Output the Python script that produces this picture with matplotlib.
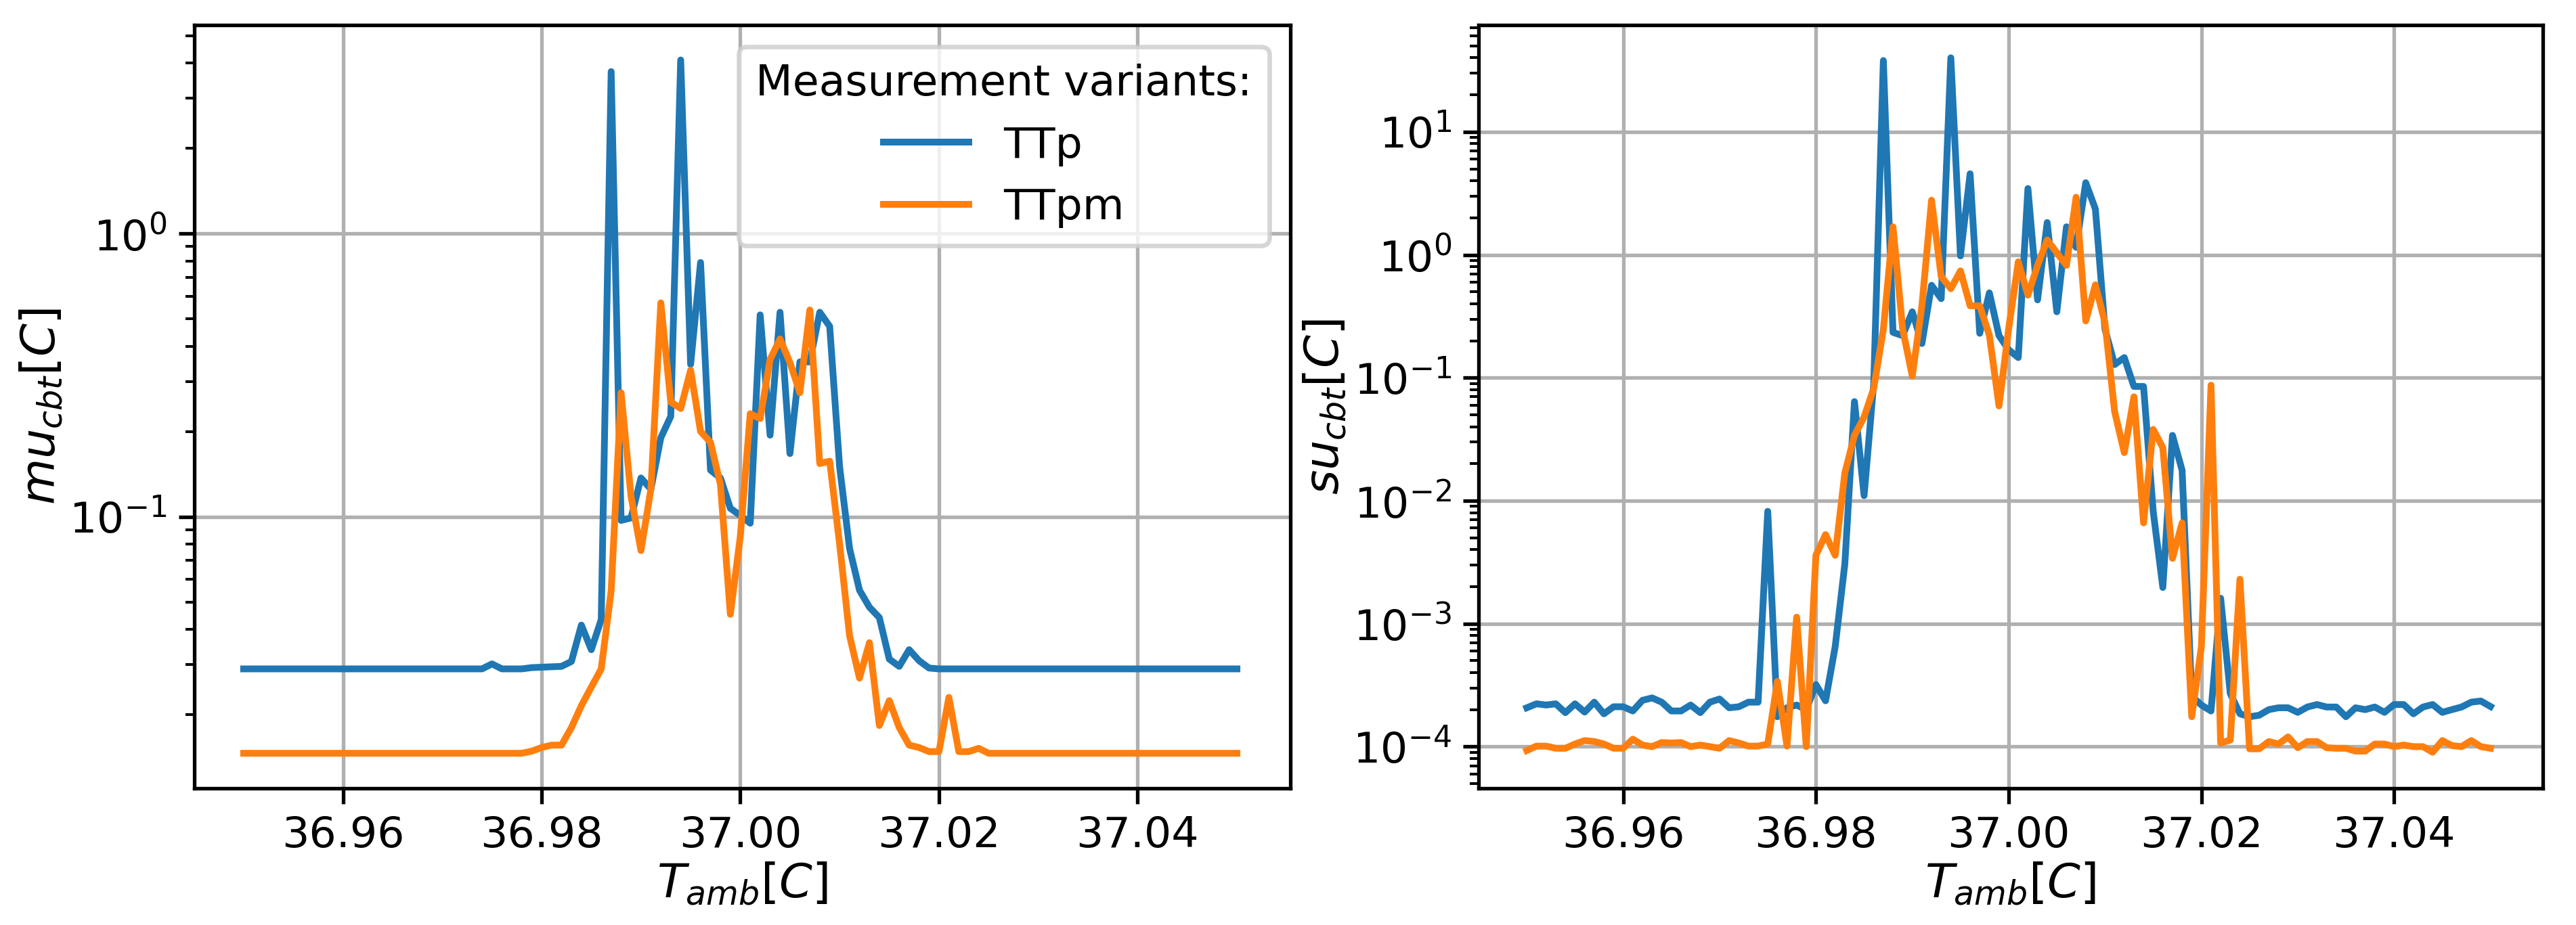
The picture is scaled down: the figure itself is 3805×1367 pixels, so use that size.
import numpy as np
import matplotlib
matplotlib.use("Agg")
import matplotlib.pyplot as plt

t_amb = np.round(np.arange(36.950, 37.0505, 0.001), 3)

mu_ttp = ([0.029]*25 + [0.0302, 0.029, 0.029, 0.029, 0.0293, 0.0294, 0.0295, 0.0296, 0.0308, 0.0414,
           0.0339, 0.0433, 3.73, 0.097, 0.099, 0.137, 0.125, 0.19, 0.226, 4.1,
           0.345, 0.79, 0.146, 0.137, 0.107, 0.101, 0.0948, 0.516, 0.194, 0.527,
           0.167, 0.352, 0.352, 0.527, 0.47, 0.15, 0.0773, 0.055, 0.0479, 0.044,
           0.0314, 0.0296, 0.0339, 0.031, 0.0292] + [0.029]*31)

mu_ttpm = ([0.0146]*29 + [0.01485, 0.0153, 0.0156, 0.0156, 0.018, 0.0215, 0.025, 0.029, 0.0547, 0.274,
            0.118, 0.0759, 0.125, 0.569, 0.254, 0.241, 0.329, 0.20, 0.183, 0.13,
            0.0452, 0.085, 0.231, 0.222, 0.359, 0.424, 0.35, 0.274, 0.537, 0.154,
            0.157, 0.08, 0.038, 0.0269, 0.0359, 0.0183, 0.0224, 0.018, 0.0156, 0.0153,
            0.0148, 0.0148, 0.023, 0.0148, 0.0148, 0.0152] + [0.0146]*26)

su_ttp = [2.07e-4, 2.23e-4, 2.18e-4, 2.23e-4, 1.89e-4, 2.23e-4, 1.91e-4, 2.30e-4, 1.85e-4, 2.11e-4,
          2.11e-4, 1.95e-4, 2.38e-4, 2.49e-4, 2.30e-4, 1.95e-4, 1.95e-4, 2.18e-4, 1.89e-4, 2.30e-4,
          2.44e-4, 2.07e-4, 2.11e-4, 2.30e-4, 2.30e-4, 8.2e-3, 1.75e-4, 2.07e-4, 2.18e-4, 2.0e-4,
          3.2e-4, 2.36e-4, 6.5e-4, 3.05e-3, 0.064, 0.011, 0.09, 38.0, 0.234, 0.22,
          0.344, 0.19, 0.565, 0.44, 40.0, 0.98, 4.56, 0.23, 0.49, 0.22,
          0.169, 0.146, 3.46, 0.43, 1.83, 0.344, 1.69, 1.15, 3.86, 2.36,
          0.248, 0.128, 0.146, 0.085, 0.085, 8.2e-3, 1.97e-3, 0.034, 0.0177, 2.57e-4,
          2.18e-4, 1.95e-4, 1.61e-3, 2.7e-4, 1.85e-4, 1.75e-4, 1.8e-4, 2.0e-4, 2.07e-4, 2.07e-4,
          1.9e-4, 2.1e-4, 2.2e-4, 2.1e-4, 2.1e-4, 1.75e-4, 2.07e-4, 2.0e-4, 2.1e-4, 1.9e-4,
          2.2e-4, 2.2e-4, 1.85e-4, 2.1e-4, 2.2e-4, 1.9e-4, 2.0e-4, 2.1e-4, 2.3e-4, 2.35e-4,
          2.12e-4]

su_ttpm = [0.93e-4, 1.01e-4, 1.01e-4, 0.97e-4, 0.97e-4, 1.05e-4, 1.12e-4, 1.10e-4, 1.05e-4, 0.97e-4,
           0.97e-4, 1.15e-4, 1.03e-4, 1.0e-4, 1.08e-4, 1.07e-4, 1.08e-4, 1.0e-4, 1.03e-4, 1.0e-4,
           0.97e-4, 1.12e-4, 1.07e-4, 1.01e-4, 1.01e-4, 1.05e-4, 3.39e-4, 1.01e-4, 1.13e-3, 1.0e-4,
           3.6e-3, 5.3e-3, 3.6e-3, 1.68e-2, 3.4e-2, 4.8e-2, 8.2e-2, 0.248, 1.69, 0.25,
           0.103, 0.385, 2.78, 0.666, 0.53, 0.74, 0.385, 0.385, 0.222, 0.059,
           0.25, 0.877, 0.47, 0.82, 1.32, 1.04, 0.82, 2.94, 0.29, 0.57,
           0.28, 0.053, 0.0246, 0.07, 6.6e-3, 0.038, 0.027, 3.4e-3, 6.6e-3, 1.75e-4,
           6.5e-4, 0.087, 1.07e-4, 1.13e-4, 2.3e-3, 0.96e-4, 0.96e-4, 1.1e-4, 1.05e-4, 1.2e-4,
           0.98e-4, 1.1e-4, 1.1e-4, 0.98e-4, 0.97e-4, 0.97e-4, 0.92e-4, 0.92e-4, 1.05e-4, 1.05e-4,
           1.0e-4, 1.03e-4, 1.0e-4, 1.0e-4, 0.9e-4, 1.12e-4, 1.02e-4, 1.0e-4, 1.12e-4, 1.0e-4,
           0.97e-4]

xticks = [36.96, 36.98, 37.00, 37.02, 37.04]

fig = plt.figure(figsize=(3805/480, 1367/480), dpi=480)
ax1 = fig.add_axes([0.0753, 0.148, 0.4257, 0.825])
ax2 = fig.add_axes([0.574, 0.148, 0.413, 0.825])

ax1.plot(t_amb, mu_ttp, color='#1f77b4', lw=1.5, label='TTp')
ax1.plot(t_amb, mu_ttpm, color='#ff7f0e', lw=1.5, label='TTpm')
ax1.set_yscale('log')
ax1.set_ylim(0.011, 5.45)
ax1.set_ylabel(r'$mu_{cbt}[C]$', fontsize=10.5, labelpad=1)
ax1.legend(title='Measurement variants:', loc='upper right', fontsize=9.5, title_fontsize=9.5)

ax2.plot(t_amb, su_ttp, color='#1f77b4', lw=1.5)
ax2.plot(t_amb, su_ttpm, color='#ff7f0e', lw=1.5)
ax2.set_yscale('log')
ax2.set_ylim(4.6e-5, 74)
ax2.set_yticks([1e-4, 1e-3, 1e-2, 1e-1, 1, 10])
ax2.set_ylabel(r'$su_{cbt}[C]$', fontsize=10.5, labelpad=1)

for ax in (ax1, ax2):
    ax.set_xlim(36.945, 37.0554)
    ax.set_xticks(xticks)
    ax.set_xticklabels([f'{v:.2f}' for v in xticks])
    ax.set_xlabel(r'$T_{amb}[C]$', fontsize=10.5, labelpad=1)
    ax.grid(True, which='major', color='#b0b0b0', lw=0.8)
    ax.tick_params(labelsize=9.5, pad=2.5)

fig.savefig('out.png', dpi=480)
